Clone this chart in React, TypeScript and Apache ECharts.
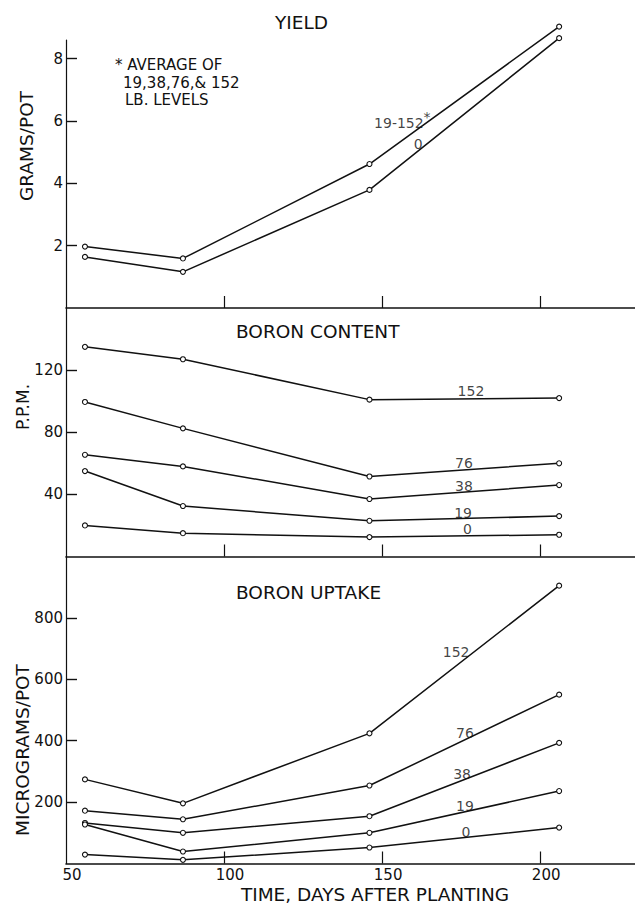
import React, { useEffect, useRef } from 'react';
import * as echarts from 'echarts';

// ---- data ----
const days = [56, 87, 146, 206];

// YIELD, grams/pot
const yieldAvg = [1.97, 1.59, 4.62, 9.03]; // average of 19,38,76,152 lb levels
const yieldZero = [1.64, 1.16, 3.79, 8.66];

// BORON CONTENT, p.p.m.
const content152 = [135, 127, 101, 102];
const content76 = [99.5, 82.5, 51.5, 60];
const content38 = [65.5, 58, 37, 46];
const content19 = [55, 32.5, 23, 26];
const content0 = [20, 15, 12.5, 14];

// BORON UPTAKE, micrograms/pot
const uptake152 = [274, 196, 424, 905];
const uptake76 = [172, 144, 254, 550];
const uptake38 = [132, 100, 154, 393];
const uptake19 = [127, 39, 100, 236];
const uptake0 = [29, 12, 52, 117];

// tick labels
const xTickLabels = [50, 100, 150, 200];
const xTickMarks = [100, 150, 200];
const yieldTicks = [2, 4, 6, 8];
const contentTicks = [40, 80, 120];
const uptakeTicks = [200, 400, 600, 800];

// in-plot curve labels: [day, value, text]
const yieldLabels: [number, number, string][] = [
  [155.3, 5.93, '19-152'],
  [164.2, 6.13, '*'],
  [161.4, 5.26, '0'],
];
const contentLabels: [number, number, string][] = [
  [178.1, 106.4, '152'],
  [175.9, 60.0, '76'],
  [175.9, 45.3, '38'],
  [175.6, 28.3, '19'],
  [177.0, 17.4, '0'],
];
const uptakeLabels: [number, number, string][] = [
  [173.4, 689, '152'],
  [176.2, 425, '76'],
  [175.3, 291, '38'],
  [176.2, 187, '19'],
  [176.5, 102, '0'],
];

const INK = '#111';
const FONT = 'DejaVu Sans';

function zip(vals: number[]) {
  return days.map((d, i) => [d, vals[i]]);
}

function lineSeries(vals: number[], idx: number) {
  return {
    type: 'line',
    xAxisIndex: idx,
    yAxisIndex: idx,
    data: zip(vals),
    symbol: 'circle',
    symbolSize: 5,
    showSymbol: true,
    clip: false,
    silent: true,
    lineStyle: { color: INK, width: 1.5 },
    itemStyle: { color: '#fff', borderColor: INK, borderWidth: 1.1 },
  };
}

function labelSeries(labels: [number, number, string][], idx: number) {
  return {
    type: 'scatter',
    xAxisIndex: idx,
    yAxisIndex: idx,
    data: labels.map((l) => ({ value: [l[0], l[1]], name: l[2] })),
    symbol: 'circle',
    symbolSize: 0,
    silent: true,
    clip: false,
    itemStyle: { color: INK },
    label: {
      show: true,
      position: [0, 0],
      align: 'center',
      verticalAlign: 'middle',
      formatter: (p: any) => p.name,
      color: INK,
      fontFamily: FONT,
      fontSize: 14,
    },
  };
}

function text(t: string, x: number, y: number, opts: any = {}) {
  return {
    type: 'text',
    x,
    y,
    rotation: opts.rotation || 0,
    silent: true,
    style: {
      text: t,
      fill: INK,
      fontFamily: FONT,
      fontSize: opts.fontSize || 18.5,
      fontWeight: opts.fontWeight || 'normal',
      textAlign: opts.align || 'center',
      textVerticalAlign: 'middle',
      align: opts.align || 'center',
      verticalAlign: 'middle',
    },
  };
}

export default function App() {
  const ref = useRef<HTMLDivElement>(null);

  useEffect(() => {
    if (!ref.current) return;
    const chart = echarts.init(ref.current, null, { renderer: 'svg' });

    const grids = [
      { left: 66, right: 0, top: 40, height: 268 },
      { left: 66, right: 0, top: 308, height: 248.5 },
      { left: 66, right: 0, top: 556.5, height: 307 },
    ];

    const xAxes = [0, 1, 2].map((i) => ({
      type: 'value',
      gridIndex: i,
      min: 50,
      max: 230,
      axisLine: { show: true, onZero: false, lineStyle: { color: INK, width: 1.6 } },
      axisTick: {
        show: true,
        inside: true,
        length: 12,
        customValues: xTickMarks,
        lineStyle: { color: INK, width: 1.2 },
      },
      axisLabel: {
        show: i === 2,
        customValues: xTickLabels,
        color: INK,
        fontFamily: FONT,
        fontSize: 15,
        margin: 4,
        padding: [0, 0, 0, 12],
      },
      splitLine: { show: false },
    }));

    const yDefs = [
      { min: 0, max: 8.6, ticks: yieldTicks },
      { min: 0, max: 160, ticks: contentTicks },
      { min: 0, max: 1000, ticks: uptakeTicks },
    ];
    const yAxes = yDefs.map((d, i) => ({
      type: 'value',
      gridIndex: i,
      min: d.min,
      max: d.max,
      axisLine: { show: true, onZero: false, lineStyle: { color: INK, width: 1.2 } },
      axisTick: {
        show: true,
        inside: true,
        length: 11,
        customValues: d.ticks,
        lineStyle: { color: INK, width: 1.4 },
      },
      axisLabel: {
        show: true,
        customValues: d.ticks,
        color: INK,
        fontFamily: FONT,
        fontSize: 15,
        margin: 3,
      },
      splitLine: { show: false },
    }));

    chart.setOption({
      animation: false,
      backgroundColor: '#fff',
      grid: grids,
      xAxis: xAxes,
      yAxis: yAxes,
      series: [
        lineSeries(yieldAvg, 0),
        lineSeries(yieldZero, 0),
        labelSeries(yieldLabels, 0),
        lineSeries(content152, 1),
        lineSeries(content76, 1),
        lineSeries(content38, 1),
        lineSeries(content19, 1),
        lineSeries(content0, 1),
        labelSeries(contentLabels, 1),
        lineSeries(uptake152, 2),
        lineSeries(uptake76, 2),
        lineSeries(uptake38, 2),
        lineSeries(uptake19, 2),
        lineSeries(uptake0, 2),
        labelSeries(uptakeLabels, 2),
      ],
      graphic: [
        text('YIELD', 275, 22, { align: 'left' }),
        text('BORON CONTENT', 236, 331, { align: 'left' }),
        text('BORON UPTAKE', 236, 592, { align: 'left' }),
        text('* AVERAGE OF', 115, 65, { align: 'left', fontSize: 15 }),
        text('19,38,76,& 152', 123, 83, { align: 'left', fontSize: 15 }),
        text('LB. LEVELS', 125, 100, { align: 'left', fontSize: 15 }),
        text('GRAMS/POT', 26, 146, { rotation: Math.PI / 2 }),
        text('P.P.M.', 23, 407, { rotation: Math.PI / 2, fontSize: 17 }),
        text('MICROGRAMS/POT', 22, 750, { rotation: Math.PI / 2 }),
        text('TIME, DAYS AFTER PLANTING', 375, 894),
      ],
    });

    return () => chart.dispose();
  }, []);

  return (
    <div
      ref={ref}
      style={{ position: 'absolute', left: 0, top: 0, width: 635, height: 906, background: '#fff' }}
    />
  );
}
